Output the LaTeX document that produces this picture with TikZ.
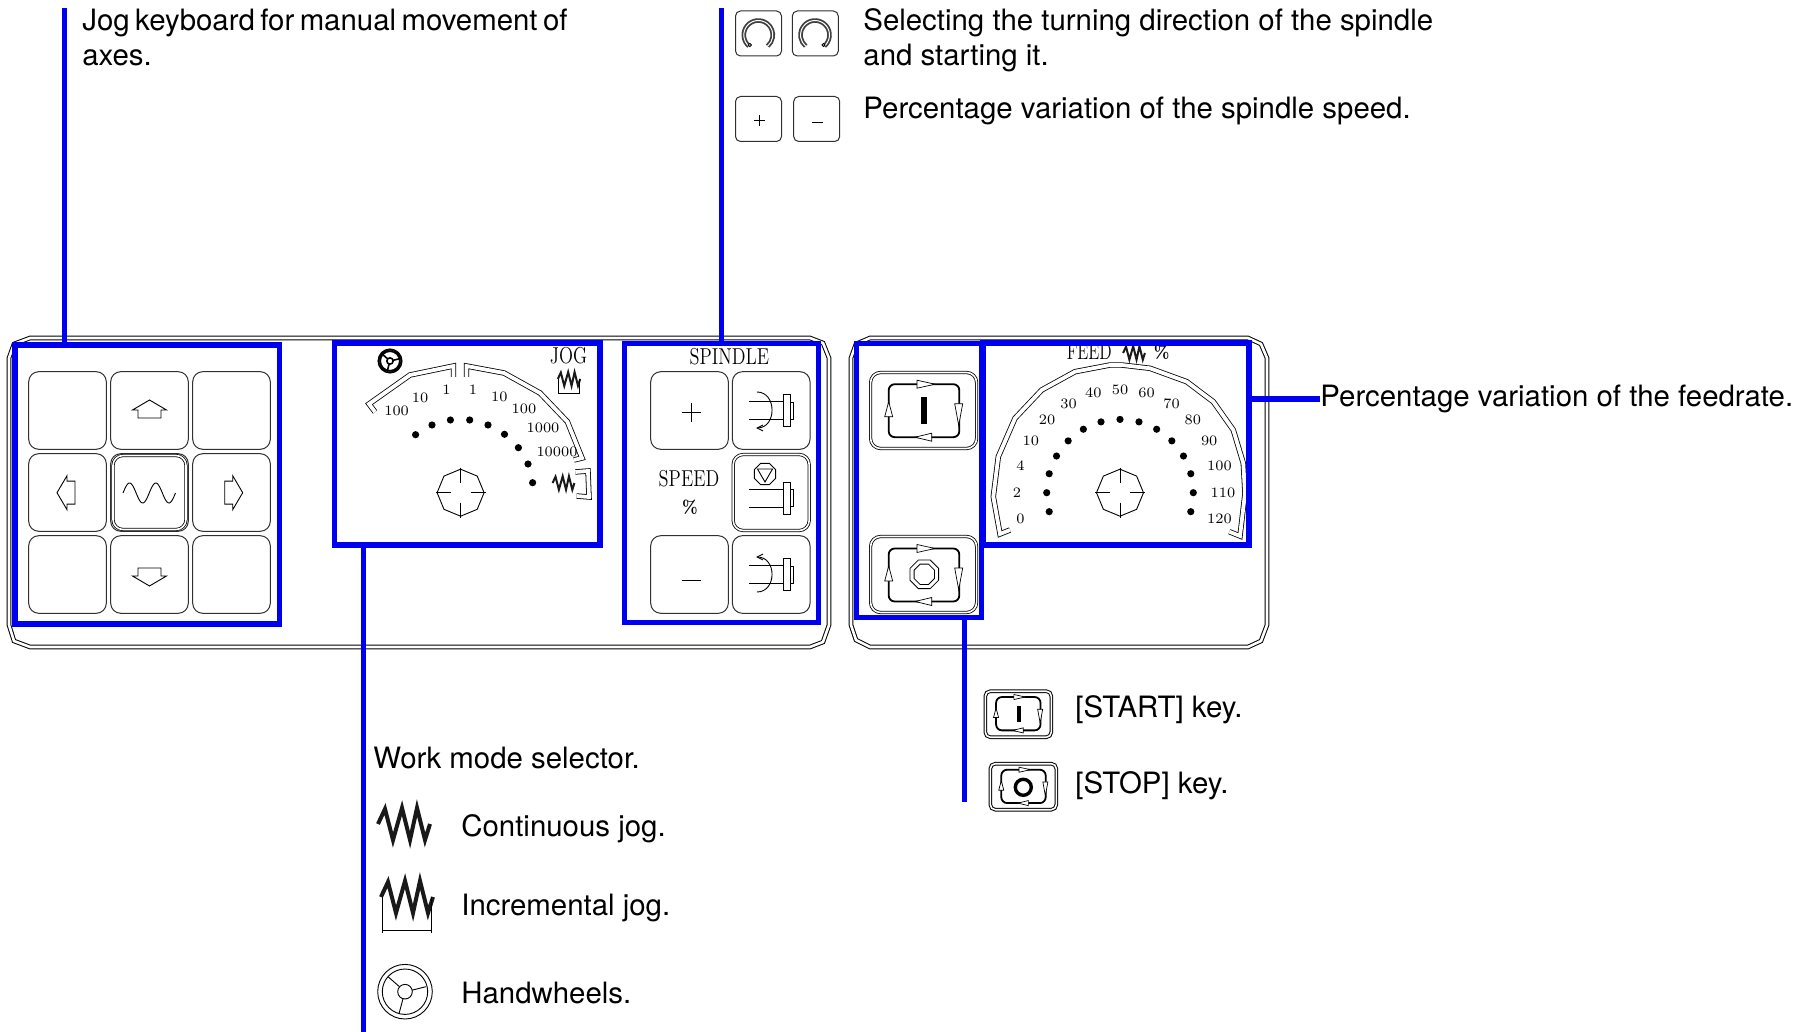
\documentclass[tikz,border=0pt]{standalone}
\usepackage{fontspec}
\setsansfont{TeX Gyre Heros}
\usetikzlibrary{arrows.meta, shapes.geometric, positioning, calc}
\definecolor{azulmarca}{HTML}{0000F0}
\definecolor{grislinea}{HTML}{303030}
\newcommand{\jogzig}{(-26,0)--(-19,-15)--(-11,16)--(-2,-16)--(6,16)--(13,-16)--(21,16)--(26,0)}
\tikzset{
  % icons drawn once, placed with shift and scale
  keyarrow/.pic={
    \draw[iconline] (0,-9)--(17,1)--(11.5,1)--(11.5,9)--(-11.5,9)--(-11.5,1)--(-17,1)--cycle;
  },
  jogwave/.pic={
    \draw[line width=#1, black!90] \jogzig;
  },
  jogframe/.pic={
    \draw[line width=#1, black!90] \jogzig;
    \draw[iconline] (-24.5,0)--(-24.5,36) (24.5,0)--(24.5,36) (-24.5,33)--(24.5,33);
  },
  handwheel/.pic={
    \draw[line width=#1] (0,0) circle (27.3) (0,0) circle (22.7) (0,0) circle (7.3);
    \draw[line width=#1] (-5.5,-5)--(-17,-15) (7,-1.5)--(21,-5) (-2,7)--(-6,22);
  },
  keyloop/.pic={
    \draw[loopline] (-35.3,-26.5) rectangle (35.3,26.5);
    \draw[looptip] (-7,-30.5)--(11,-26.5)--(-7,-22.5)--cycle;
    \draw[looptip] (30.7,-7)--(34.7,14.7)--(38.7,-7)--cycle;
    \draw[looptip] (7.7,22.5)--(-9,26.5)--(7.7,30.5)--cycle;
    \draw[looptip] (-39.3,6)--(-35.3,-9)--(-31.3,6)--cycle;
  },
  spindlebody/.pic={
    \draw[iconline] (-22,-9)--(12,-9) (-22,9)--(12,9);
    \draw[iconline, fill=white] (12,-16) rectangle (19,16) (19,-8.5) rectangle (22.5,8.5);
  },
  turnsign/.pic={
    \draw[line width=.9pt, double=white, double distance=.5pt, black!75] (0,0)+(130:14.5) arc[start angle=130, end angle=410, radius=14.5];
    \draw[iconline, fill=white] (-8.5,10) circle (1.6);
  }
}
\newcommand{\dialknob}[3]{
  \node[regular polygon, regular polygon sides=8, shape border rotate=22.5, draw, line width=.45pt, minimum size=23.5pt, inner sep=0pt] (#1) at (#2,#3) {};
  \draw[iconline] (#2-25,#3)--(#2-10,#3) (#2+10,#3)--(#2+25,#3) (#2,#3-25)--(#2,#3-10) (#2,#3+10)--(#2,#3+25);
}
\begin{document}
\begin{tikzpicture}[
  x=.5pt, y=-.5pt,
  panelline/.style={draw=black, line width=.5pt, double=white, double distance=1.3pt},
  dialline/.style={draw=black, line width=.4pt, double=white, double distance=1.9pt},
  iconline/.style={draw=black, line width=.45pt},
  keybox/.style={rectangle, rounded corners=5pt, draw=grislinea, line width=.5pt,
    minimum width=38.8pt, minimum height=38.8pt, inner sep=0pt, outer sep=0pt},
  keydouble/.style={keybox, draw=black, line width=.4pt, double=white, double distance=.8pt,
    minimum width=38pt, minimum height=38pt},
  keywide/.style={keydouble, minimum width=53pt},
  keysmall/.style={keybox, rounded corners=2.5pt, minimum width=23pt, minimum height=22.5pt},
  loopline/.style={draw=black, line width=.9pt, rounded corners=3pt},
  looptip/.style={draw=black, line width=.35pt, fill=white},
  marca/.style={rectangle, draw=azulmarca, line width=2.75pt, inner sep=0pt, outer sep=0pt},
  leader/.style={draw=azulmarca, line width=2.75pt},
  callout/.style={anchor=base west, inner sep=0pt, font=\sffamily\fontsize{14.7}{16}\selectfont},
  dotmark/.style={circle, fill=black, minimum size=3.6pt, inner sep=0pt},
  dialnum/.style={inner sep=0pt, font=\fontsize{7.2}{8}\selectfont},
  panelword/.style={inner sep=0pt, xscale=.8, transform shape, font=\fontsize{11.5}{12}\selectfont},
  pctword/.style={panelword, xscale=1.1, font=\bfseries\fontsize{9}{10}\selectfont},
]
  \useasboundingbox (0,0) rectangle (1812,1032);

  % panels
  \draw[panelline] (30,338)--(810,338)--(823,343)--(829,358)--(829,625)--(823,642)--(810,647)
    --(30,647)--(14,641)--(9,625)--(9,358)--(14,344)--cycle;
  \draw[panelline] (870,338)--(1248,338)--(1261,344)--(1267,358)--(1267,625)--(1261,641)--(1248,647)
    --(870,647)--(856,640)--(851,625)--(851,358)--(856,344)--cycle;

  % jog keys
  \foreach \kx [count=\i] in {67.5,149.5,231.5}
    \foreach \ky [count=\j] in {410.5,492.5,574.5}
      \node[keybox] (jog\i\j) at (\kx,\ky) {};
  \node[keydouble, minimum width=36.5pt, minimum height=37pt] (jogmid) at (149.5,492.5) {};
  \pic at (149.5,409) {keyarrow};
  \pic[rotate=90] at (66,492.7) {keyarrow};
  \pic[rotate=-90] at (233.7,492.7) {keyarrow};
  \pic[rotate=180] at (149.5,577) {keyarrow};
  \draw[iconline] plot[domain=0:720, samples=70] ({123+\x/720*52.5},{493-10*sin(\x)});

  % work mode dial
  \pic[scale=.43] at (390,361) {handwheel=.8pt};
  \node[panelword] (jogword) at (568.6,356) {JOG};
  \pic[scale=.43] at (569,379) {jogframe=1pt};
  \draw[dialline] (375,412)--(369,404)--(410,375)--(453.5,366)--(453.5,377);
  \draw[dialline] (466.5,377)--(466.5,366)--(504,373)--(540,393)--(567.4,421.7)--(582,458)--(574,460);
  \foreach \lx/\ly/\lt [count=\i] in {396.6/411/100,420/398/10,446.4/390/1,473/390/1,499.4/396.7/10,
      524/409/100,543/428/1000,557/452/10000}
    \node[dialnum] (joglbl\i) at (\lx,\ly) {\lt};
  \foreach \lx/\ly [count=\i] in {415.6/434.7,432/425,450.4/420,469.7/420,488/425,504.5/434.3,
      518.4/447.7,528/464,532.6/482.7}
    \node[dotmark] (jogdot\i) at (\lx,\ly) {};
  \dialknob{jogknob}{460.6}{492.7}
  \pic[scale=.42] at (563.5,483) {jogwave=1pt};
  \draw[dialline] (575.3,472)--(588,471)--(589,497)--(576.5,496);

  % spindle keys
  \node[panelword] (spindleword) at (729.3,357) {SPINDLE};
  \node[keybox] (plus) at (689.5,410.5) {};
  \node[keybox] (turncw) at (771.2,410.5) {};
  \node[keydouble] (stopsp) at (771.2,492.5) {};
  \node[keybox] (minus) at (689.5,574.5) {};
  \node[keybox] (turnccw) at (771.2,574.5) {};
  \draw[iconline] (691,403)--(691,422) (681.5,412.7)--(700.5,412.7) (681.5,580)--(700.5,580);
  \node[panelword] (speedword) at (689,478.3) {SPEED};
  \node[pctword] (pctmark) at (690,507.3) {\%};
  \pic at (771.2,410.5) {spindlebody};
  \pic at (771.2,498.2) {spindlebody};
  \pic at (771.2,574.5) {spindlebody};
  \draw[iconline, -{Straight Barb[length=3pt,width=3pt]}] (757,392) .. controls (777,392) and (777,428) .. (756,428);
  \draw[iconline, -{Straight Barb[length=3pt,width=3pt]}] (757,592) .. controls (777,592) and (777,557) .. (756,557);
  \node[regular polygon, regular polygon sides=8, draw, line width=.4pt, minimum size=11.5pt, inner sep=0pt] (stopoct) at (765,474) {};
  \draw[iconline] (757.5,469)--(772.5,469)--(765,482)--cycle;

  % cycle keys
  \node[keywide] (startkey) at (923.6,410.5) {};
  \node[keywide] (stopkey) at (923.6,574.5) {};
  \pic at (924,410.7) {keyloop};
  \pic at (924,575) {keyloop};
  \node[rectangle, fill=black, minimum width=3pt, minimum height=13.3pt, inner sep=0pt] (startbar) at (924,410.7) {};
  \node[regular polygon, regular polygon sides=8, draw, line width=.4pt, minimum size=15.5pt, inner sep=0pt] (stopouter) at (924.3,574.3) {};
  \node[regular polygon, regular polygon sides=8, draw, line width=.4pt, minimum size=11pt, inner sep=0pt] (stopinner) at (924.3,574.3) {};

  % feed dial
  \node[panelword, xscale=.9] (feedword) at (1089.3,352) {FEED};
  \pic[scale=.42] at (1134,353) {jogwave=1pt};
  \node[pctword] (feedpct) at (1161.7,352.7) {\%};
  \draw[dialline] (1010,530)--(1000,534)--(993.3,496.7)--(998.3,456.7)--(1015,418.3)--(1041.7,390)--(1075,371.7)
    --(1110,365)--(1121.7,365)--(1150,368.3)--(1186.7,381.7)--(1213.3,401.7)--(1233.3,430)--(1243.3,463.3)
    --(1245,493.3)--(1240,536)--(1229.3,531.7);
  \foreach \lt [count=\i] in {0,2,4,10,20,30,40,50,60,70,80,90,100,110,120} {
    \pgfmathsetmacro{\ang}{150+15*\i}
    \node[dotmark] (feeddot\i) at ($(1120,492.7)+(\ang:73.3)$) {};
    \node[dialnum] (feedlbl\i) at ($(1120,492.7)+(\ang:103)$) {\lt};
  }
  \dialknob{feedknob}{1120}{492.7}

  % marks and their leaders
  \node[marca, minimum width=132.2pt, minimum height=139.5pt] (jogmark) at (147.3,484.5) {};
  \node[marca, minimum width=132.75pt, minimum height=101pt] (modemark) at (467.2,444) {};
  \node[marca, minimum width=97.2pt, minimum height=139.5pt] (spindlemark) at (721.5,482.8) {};
  \node[marca, minimum width=62.5pt, minimum height=137pt] (cyclemark) at (919,480.3) {};
  \node[marca, minimum width=133pt, minimum height=101pt] (feedmark) at (1115.8,444) {};
  \coordinate (jogend) at (64.5,8);
  \coordinate (spindleend) at (721.7,8);
  \coordinate (modeend) at (363.5,1032);
  \coordinate (cycleend) at (964.3,802);
  \coordinate (feedend) at (1320,399);
  \draw[leader] (jogend)--(jogend |- jogmark.north);
  \draw[leader] (spindleend)--(spindleend |- spindlemark.north);
  \draw[leader] (modemark.south -| modeend)--(modeend);
  \draw[leader] (cyclemark.south -| cycleend)--(cycleend);
  \draw[leader] (feedmark.east |- feedend)--(feedend);

  % spindle legend keys
  \node[keysmall] (legcw) at (758.5,33.5) {};
  \node[keysmall] (legccw) at (815.3,33.5) {};
  \node[keysmall] (legplus) at (758.5,119) {};
  \node[keysmall] (legminus) at (816.7,119) {};
  \pic at (758.3,35) {turnsign};
  \pic[xscale=-1] at (815,35) {turnsign};
  \draw[iconline] (759.3,115)--(759.3,126) (753.8,120.7)--(764.8,120.7) (812,122.3)--(823.4,122.3);

  % start and stop legend keys
  \node[keywide, line width=.5pt, minimum width=33pt, minimum height=23pt, rounded corners=2.5pt] (legstart) at (1018.3,714.2) {};
  \node[keywide, line width=.5pt, minimum width=33pt, minimum height=23pt, rounded corners=2.5pt] (legstop) at (1023.3,786.7) {};
  \pic[scale=.63] at (1018.3,713.7) {keyloop};
  \pic[scale=.63] at (1023.5,786.4) {keyloop};
  \node[rectangle, fill=black, minimum width=1.7pt, minimum height=8.1pt, inner sep=0pt] (legbar) at (1019,714.2) {};
  \node[circle, draw=black, line width=1.7pt, minimum size=8pt, inner sep=0pt] (legring) at (1023.3,787.3) {};

  % work mode legend
  \pic at (404,824) {jogwave=2pt};
  \pic at (407,897) {jogframe=2pt};
  \pic at (405,991.7) {handwheel=.45pt};

  % texts
  \node[callout] (jogtxta) at (82,31) {\spaceskip=2.7pt Jog keyboard for manual movement of};
  \node[callout] (jogtxtb) at (82,66) {axes.};
  \node[callout] (dirtxta) at (863,31) {Selecting the turning direction of the spindle};
  \node[callout] (dirtxtb) at (863,66) {and starting it.};
  \node[callout] (pcttxt) at (863,119) {Percentage variation of the spindle speed.};
  \node[callout] (feedtxt) at (1320,407) {Percentage variation of the feedrate.};
  \node[callout] (starttxt) at (1075,717) {[START] key.};
  \node[callout] (stoptxt) at (1075,793) {[STOP] key.};
  \node[callout] (modetxt) at (373,768) {Work mode selector.};
  \node[callout] (contxt) at (461,836) {Continuous jog.};
  \node[callout] (inctxt) at (461,915) {Incremental jog.};
  \node[callout] (handtxt) at (461,1003) {Handwheels.};
\end{tikzpicture}
\end{document}
